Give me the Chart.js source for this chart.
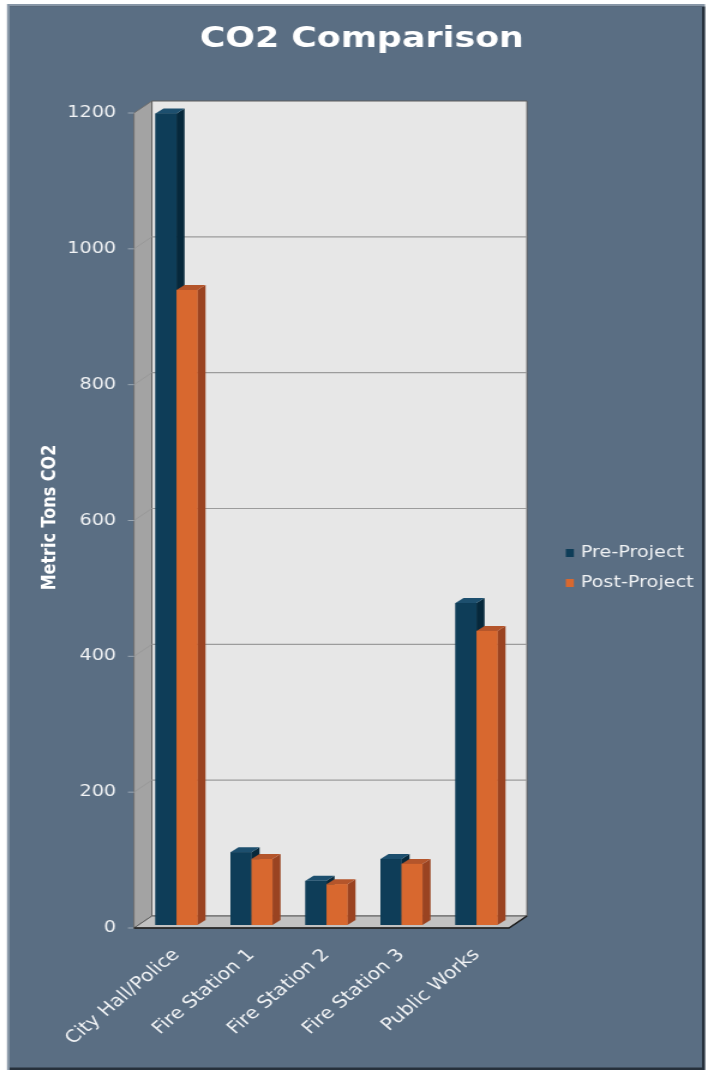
<!DOCTYPE html>
<html>
<head>
<meta charset="utf-8">
<script src="https://cdn.jsdelivr.net/npm/chart.js@4.4.1/dist/chart.umd.min.js"></script>
<style>
    html, body {
        margin: 0;
        padding: 0;
        background: #ffffff;
        overflow: hidden;
    }
    /* the source picture is stretched sideways, so the canvas is too */
    #co2Chart {
        display: block;
        transform: scaleX(1.2);
        transform-origin: 0 0;
    }
</style>
</head>
<body>
<canvas id="co2Chart" width="590" height="1074"></canvas>
<script>
// Chart data
const sites = ['City Hall/Police', 'Fire Station 1', 'Fire Station 2', 'Fire Station 3', 'Public Works'];
const preProject = [1195, 107, 65, 97, 474];
const postProject = [935, 97, 60, 90, 433];
const yTicks = [0, 200, 400, 600, 800, 1000, 1200];

const textColor = '#f1f3f5';

// face colours for the fake 3D columns: front, side, top
const faces = [
    { front: '#0e3d58', side: '#06283b', top: '#1d4f6e' },
    { front: '#d8682f', side: '#9a4321', top: '#b4552b' }
];

// depth of the box and of the columns (canvas px, before the x stretch)
const WALL_DX = 15, WALL_DY = -12;
const BAR_DX = 6.7, BAR_DY = -5;
const FRONT_DX = -4.2, FRONT_DY = 3;

function poly(ctx, pts, fill, stroke) {
    ctx.beginPath();
    ctx.moveTo(pts[0][0], pts[0][1]);
    for (let i = 1; i < pts.length; i++) ctx.lineTo(pts[i][0], pts[i][1]);
    ctx.closePath();
    if (fill) {
        ctx.fillStyle = fill;
        ctx.fill();
    }
    if (stroke) {
        ctx.strokeStyle = stroke;
        ctx.lineWidth = 1;
        ctx.stroke();
    }
}

const depth3d = {
    id: 'depth3d',
    beforeDraw(chart) {
        const ctx = chart.ctx;
        const w = chart.width, h = chart.height;
        ctx.save();
        ctx.fillStyle = '#ffffff';
        ctx.fillRect(0, 0, w, h);
        // bevelled panel
        ctx.fillStyle = '#8796a6';
        ctx.fillRect(5.8, 4, w - 8.3, h - 8);
        ctx.fillStyle = '#26303b';
        ctx.fillRect(8, 6.5, w - 10.5, h - 10.5);
        ctx.fillStyle = '#5a6e83';
        ctx.fillRect(8, 6.5, w - 13, h - 13);
        ctx.restore();
    },
    beforeDatasetsDraw(chart) {
        const ctx = chart.ctx;
        const ca = chart.chartArea;
        const ys = chart.scales.y;
        const fl = ca.left + FRONT_DX, fr = ca.right + FRONT_DX;
        const fy = v => ys.getPixelForValue(v) + FRONT_DY;
        const top = fy(1200), bot = fy(0);

        ctx.save();
        // side wall
        poly(ctx, [[fl, top], [fl + WALL_DX, top + WALL_DY], [fl + WALL_DX, bot + WALL_DY], [fl, bot]], '#a3a3a3', '#6e6e6e');
        // back wall
        poly(ctx, [[fl + WALL_DX, top + WALL_DY], [fr + WALL_DX, top + WALL_DY], [fr + WALL_DX, bot + WALL_DY], [fl + WALL_DX, bot + WALL_DY]], '#e7e7e7', '#5c5c5c');
        // grid lines on the walls
        yTicks.forEach(v => {
            if (v === 0 || v === 1200) return;
            const y = fy(v);
            ctx.strokeStyle = '#9c9c9c';
            ctx.lineWidth = 1.2;
            ctx.beginPath();
            ctx.moveTo(fl + WALL_DX, y + WALL_DY);
            ctx.lineTo(fr + WALL_DX, y + WALL_DY);
            ctx.stroke();
            ctx.strokeStyle = '#959595';
            ctx.lineWidth = 0.8;
            ctx.beginPath();
            ctx.moveTo(fl, y);
            ctx.lineTo(fl + WALL_DX, y + WALL_DY);
            ctx.stroke();
        });
        // tick marks
        ctx.strokeStyle = '#9aa6b2';
        ctx.lineWidth = 1;
        yTicks.forEach(v => {
            const y = fy(v);
            ctx.beginPath();
            ctx.moveTo(fl - 5, y);
            ctx.lineTo(fl, y);
            ctx.stroke();
        });
        // floor
        poly(ctx, [[fl, bot], [fr, bot], [fr + WALL_DX, bot + WALL_DY], [fl + WALL_DX, bot + WALL_DY]], '#c2c2c2', '#5c5c5c');
        ctx.strokeStyle = '#1c1c1c';
        ctx.lineWidth = 1.5;
        ctx.beginPath();
        ctx.moveTo(fl, bot);
        ctx.lineTo(fr, bot);
        ctx.lineTo(fr + WALL_DX, bot + WALL_DY);
        ctx.stroke();
        ctx.restore();
    },
    afterDatasetsDraw(chart) {
        const ctx = chart.ctx;
        const count = chart.data.labels.length;
        ctx.save();
        // redraw column by column so the nearer faces cover the right ones
        for (let i = 0; i < count; i++) {
            chart.data.datasets.forEach((ds, d) => {
                const bar = chart.getDatasetMeta(d).data[i];
                const { x, y, base, width } = bar.getProps(['x', 'y', 'base', 'width'], true);
                const x0 = x - width / 2, x1 = x + width / 2;
                const c = faces[d];
                poly(ctx, [[x1, y], [x1 + BAR_DX, y + BAR_DY], [x1 + BAR_DX, base + BAR_DY], [x1, base]], c.side);
                poly(ctx, [[x0, y], [x1, y], [x1 + BAR_DX, y + BAR_DY], [x0 + BAR_DX, y + BAR_DY]], c.top);
                ctx.fillStyle = c.front;
                ctx.fillRect(x0, y, width, base - y);
            });
        }
        ctx.restore();
    },
    afterDraw(chart) {
        // legend on the right
        const ctx = chart.ctx;
        ctx.save();
        ctx.font = '16px "DejaVu Sans"';
        ctx.textBaseline = 'middle';
        chart.data.datasets.forEach((ds, d) => {
            const y = 553 + d * 30;
            ctx.fillStyle = faces[d].front;
            ctx.fillRect(471.5, y - 4, 6.7, 8);
            ctx.fillStyle = textColor;
            ctx.fillText(ds.label, 484, y);
        });
        ctx.restore();
    }
};

Chart.defaults.font.family = '"DejaVu Sans", Verdana, sans-serif';

const chart = new Chart(document.getElementById('co2Chart'), {
    type: 'bar',
    data: {
        labels: sites,
        datasets: [
            { label: 'Pre-Project', data: preProject, backgroundColor: faces[0].front },
            { label: 'Post-Project', data: postProject, backgroundColor: faces[1].front }
        ]
    },
    options: {
        responsive: false,
        animation: false,
        layout: { padding: { left: 13, right: 0, top: 0, bottom: 0 } },
        datasets: {
            bar: { categoryPercentage: 0.56, barPercentage: 1.0 }
        },
        plugins: {
            legend: { display: false },
            tooltip: { enabled: false },
            title: {
                display: true,
                text: 'CO2 Comparison',
                color: '#ffffff',
                font: { size: 29, weight: 'bold' },
                padding: { top: 22, bottom: 53.2 }
            }
        },
        scales: {
            x: {
                grid: { display: false, drawTicks: false },
                border: { display: false },
                ticks: {
                    color: textColor,
                    font: { size: 17 },
                    maxRotation: 45,
                    minRotation: 45,
                    padding: 20
                },
                afterFit: (scale) => { scale.height = 149; }
            },
            y: {
                min: 0,
                max: 1200,
                grid: { display: false, drawTicks: false },
                border: { display: false },
                ticks: {
                    stepSize: 200,
                    color: textColor,
                    font: { size: 16 },
                    padding: 19,
                    labelOffset: 3,
                    callback: (value) => String(value)
                },
                title: {
                    display: true,
                    text: 'Metric Tons CO2',
                    color: '#ffffff',
                    font: { size: 16, weight: 'bold' },
                    padding: { top: 19, bottom: 0 }
                },
                afterFit: (scale) => { scale.width = 102.8; }
            },
            // empty axis that only keeps room for the legend
            legendRoom: {
                type: 'linear',
                position: 'right',
                grid: { display: false },
                border: { display: false },
                ticks: { display: false },
                afterFit: (scale) => { scale.width = 161.7; }
            }
        }
    },
    plugins: [depth3d]
});
</script>
</body>
</html>
